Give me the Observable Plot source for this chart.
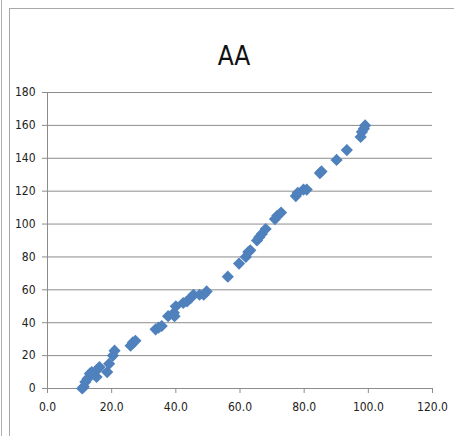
<!DOCTYPE html>
<html>
<head>
<meta charset="utf-8">
<script src="https://cdn.jsdelivr.net/npm/d3@7"></script>
<script src="https://cdn.jsdelivr.net/npm/@observablehq/plot@0.6"></script>
<style>
  html, body { margin: 0; padding: 0; background: #fff; }
  #wrap { position: relative; width: 454px; height: 436px; overflow: hidden; }
  #outer { position: absolute; left: 1px; top: 0; width: 0; height: 436px; border-left: 1px solid #b0b0b0; }
  #box { position: absolute; left: 9px; top: 8px; width: 470px; height: 460px; border: 1px solid #a8a8a8; }
  #chart { position: absolute; left: 0; top: 0; }
  #chart svg text { font-stretch: condensed; }
</style>
</head>
<body>
<div id="wrap">
  <div id="outer"></div>
  <div id="box"></div>
  <div id="chart"></div>
</div>
<script>
const title = "AA";
const xValues = [10.8, 11.3, 11.8, 12.5, 13.2, 13.8, 15.3, 15.8, 16.2, 18.6, 19.2, 20.4, 20.9,
  25.9, 26.6, 27.4, 33.7, 34.6, 35.6, 37.6, 39.4, 39.6, 40.0, 42.3, 43.5, 44.6, 45.5, 47.4, 48.7, 49.6,
  56.2, 59.7, 61.8, 62.6, 63.2, 65.3, 66.0, 66.8, 68.0, 70.9, 71.6, 72.8, 77.4, 78.0, 79.8, 80.8,
  84.9, 85.4, 90.1, 93.3, 97.6, 98.0, 98.6, 99.0];
const yValues = [0, 1, 4, 6, 9, 10, 7, 12, 13, 10, 15, 20, 23,
  26, 28, 29, 36, 37, 38, 44, 46, 44, 50, 52, 53, 55, 57, 57, 57, 59,
  68, 76, 80, 83, 84, 90, 92, 94, 97, 103, 105, 107, 117, 119, 121, 121,
  131, 132, 139, 145, 153, 156, 158, 160];
const xTicks = [0, 20, 40, 60, 80, 100, 120];
const yTicks = [0, 20, 40, 60, 80, 100, 120, 140, 160, 180];

const data = xValues.map((x, i) => ({x, y: yValues[i]}));
const font = "'Liberation Sans Narrow', 'DejaVu Sans', sans-serif";

const chart = Plot.plot({
  width: 454,
  height: 436,
  marginLeft: 47,
  marginRight: 22,
  marginTop: 92,
  marginBottom: 48,
  style: {fontFamily: font, fontSize: "11px", color: "#222", background: "transparent"},
  x: {domain: [0, 120], ticks: xTicks, tickFormat: d3.format(".1f"), label: null},
  y: {domain: [0, 180], ticks: yTicks, label: null},
  marks: [
    Plot.gridY(yTicks, {stroke: "#8c8c8c", strokeOpacity: 1, strokeWidth: 1}),
    Plot.ruleY([0], {stroke: "#8c8c8c"}),
    Plot.ruleX([0], {stroke: "#8c8c8c"}),
    Plot.axisX(xTicks, {tickSize: 5, tickPadding: 9, stroke: "#8c8c8c", fill: "#222", fontSize: 12, tickFormat: d3.format(".1f"), label: null}),
    Plot.axisY(yTicks, {tickSize: 5, tickPadding: 7, stroke: "#8c8c8c", fill: "#222", fontSize: 12, label: null}),
    Plot.dot(data, {x: "x", y: "y", symbol: "diamond2", r: 5.5, fill: "#4F81BD", stroke: "none"}),
    Plot.text([title], {frameAnchor: "top", dx: -6, dy: -46, fontSize: 26, fill: "#111", fontFamily: font})
  ]
});
document.getElementById("chart").appendChild(chart);
</script>
</body>
</html>
